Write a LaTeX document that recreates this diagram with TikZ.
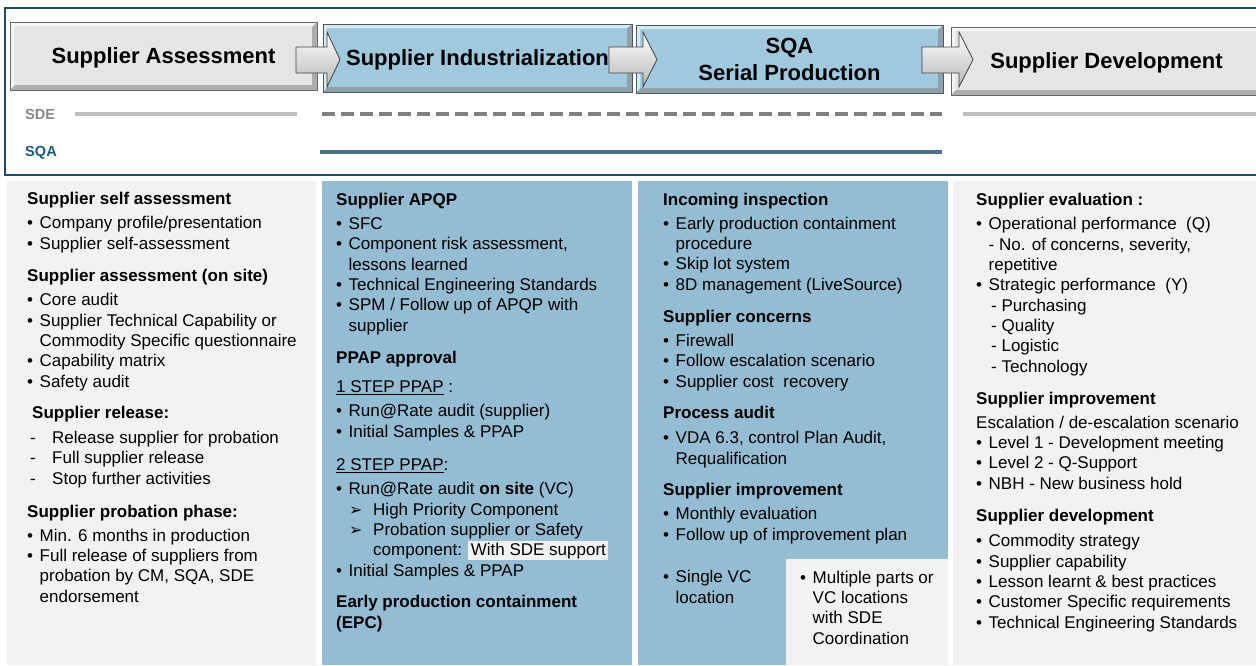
\documentclass[tikz,border=0pt]{standalone}
\usepackage{fontspec}
\setmainfont{Liberation Sans}
\newfontfamily\arrowfont{DejaVu Sans}
\usepackage{tikz}
\usetikzlibrary{calc}
\definecolor{framecol}{RGB}{30,75,105}
\definecolor{hdrgray}{RGB}{229,229,229}
\definecolor{hdrblue}{RGB}{160,201,222}
\definecolor{colgray}{RGB}{242,242,242}
\definecolor{colblue}{RGB}{148,188,210}
\definecolor{sdegray}{RGB}{135,135,135}
\definecolor{sqateal}{RGB}{28,90,122}
\definecolor{sqaline}{RGB}{78,112,136}
\def\blockarrow(#1:#2:#3)% Syntax: (body start x : head base x : tip x), pixel units
{ \shade[top color=white,bottom color=black!28,draw=black!75,line width=0.8pt] (#1,47) -- (#2,47) -- (#2,32) -- (#3,59.5) -- (#2,87) -- (#2,73) -- (#1,73) -- cycle; }
\newcommand{\bul}{\makebox[12.5pt][l]{\textbullet}}
\newcommand{\bcont}{\hspace*{12.5pt}}
\newcommand{\dsh}{\makebox[25pt][l]{\,-}}
\newcommand{\arritem}{\hspace*{13pt}\makebox[24pt][l]{{\arrowfont\fontsize{16}{16}\selectfont ➢}}}
\newcommand{\sdebox}[1]{{\setlength{\fboxsep}{2.5pt}\colorbox{colgray}{\raisebox{0pt}[12.5pt][1.5pt]{#1}}}}

\begin{document}
\begin{tikzpicture}[x=1pt,y=-1pt,
	bevel/.style={path picture={
		\coordinate (sw) at (path picture bounding box.south west);
		\coordinate (se) at (path picture bounding box.south east);
		\coordinate (nw) at (path picture bounding box.north west);
		\coordinate (ne) at (path picture bounding box.north east);
		\fill[#1!60!black!70] (sw) -- (se) -- (ne) -- ($(ne)+(-5,5)$) -- ($(se)+(-5,-5)$) -- ($(sw)+(5,-5)$) -- cycle;	%dark edge
		\fill[white!60!#1] (sw) -- (nw) -- (ne) -- ($(ne)+(-5,4)$) -- ($(nw)+(4,4)$) -- ($(sw)+(4,-5)$) -- cycle;	%light edge
	}},
	hdrbox/.style={fill=#1,draw=#1!45!black,line width=0.6pt,bevel=#1,minimum width=307pt,minimum height=68pt,
		inner sep=0pt,align=center,font=\bfseries\fontsize{22}{27}\selectfont},
	oneline/.style={text depth=0pt},
	txt/.style={anchor=base west,align=left,inner sep=0pt,font=\fontsize{17}{20.3}\selectfont},	%base = last line
	lbl/.style={anchor=west,inner sep=0pt,font=\bfseries\fontsize{14.6}{16}\selectfont},
	bar/.style={line width=4pt}]
	\useasboundingbox (0,0) rectangle (1256,665);
	
	%FRAME AND COLUMNS
	\draw[framecol,line width=2pt] (5,8) rectangle (1262,175);
	\fill[colgray] (7,181) rectangle (316,665);
	\fill[colblue] (322,181) rectangle (632,665);
	\fill[colblue] (638,181) rectangle (948,665);
	\fill[colgray] (786,559) rectangle (948,665);		%SDE coordination corner
	\fill[colgray] (953,181) rectangle (1262,665);
	
	%HEADER
	\node[hdrbox=hdrgray,oneline] (assess) at (163.5,56) {Supplier Assessment};
	\node[hdrbox=hdrblue,oneline,minimum width=309pt] (indus) at (477.5,58) {Supplier Industrialization};
	\node[hdrbox=hdrblue] (serial) at (789.5,59) {SQA\\Serial Production};
	\node[hdrbox=hdrgray,oneline,minimum width=311pt] (develop) at (1106.5,61) {Supplier Development};
	\blockarrow(296:327:340)
	\blockarrow(609:643:657)
	\blockarrow(922:959:973)
	
	%SDE / SQA BARS
	\node[lbl,text=sdegray] (sde) at (25,114) {SDE};
	\node[lbl,text=sqateal] (sqa) at (25,153) {SQA};
	\draw[bar,black!25] (75,114) -- (297,114);
	\draw[bar,black!50,dash pattern=on 13pt off 6pt] (322,114) -- (942,114);
	\draw[bar,black!25] (963,114) -- (1256,114);
	\draw[bar,sqaline] (320,152) -- (942,152);
	
	%COLUMN 1
	\node[txt] (selfassess) at (27,249) {\textbf{Supplier self assessment}\\[3.7pt]
		\bul Company profile/presentation\\\bul Supplier self-assessment};
	\node[txt] (onsite) at (27,387) {\textbf{Supplier assessment (on site)}\\[3.7pt]
		\bul Core audit\\\bul Supplier Technical Capability or\\\bcont Commodity Specific questionnaire\\
		\bul Capability matrix\\\bul Safety audit};
	\node[txt] (release) at (27,484) {\hspace*{5pt}\textbf{Supplier release:}\\[4.7pt]
		\dsh Release supplier for probation\\\dsh Full supplier release\\\dsh Stop further activities};
	\node[txt] (probation) at (27,602) {\textbf{Supplier probation phase:}\\[3.7pt]
		\bul Min. 6 months in production\\\bul Full release of suppliers from\\
		\bcont probation by CM, SQA, SDE\\\bcont endorsement};
	
	%COLUMN 2
	\node[txt] (apqp) at (336,331) {\textbf{Supplier APQP}\\[3.7pt]
		\bul SFC\\\bul Component risk assessment,\\\bcont lessons learned\\
		\bul Technical Engineering Standards\\\bul SPM / Follow up of APQP with\\\bcont supplier};
	\node[txt] (ppap) at (336,363) {\textbf{PPAP approval}};
	\node[txt] (onestep) at (336,437) {\underline{1 STEP PPAP} :\\[3.7pt]
		\bul Run@Rate audit (supplier)\\\bul Initial Samples \& PPAP};
	\node[txt] (twostep) at (336,576) {\underline{2 STEP PPAP}:\\[3.7pt]
		\bul Run@Rate audit \textbf{on site} (VC)\\\arritem High Priority Component\\
		\arritem Probation supplier or Safety\\\hspace*{37pt}component: \sdebox{With SDE support}\\
		\bul Initial Samples \& PPAP};
	\node[txt] (epc) at (336,628) {\textbf{Early production containment}\\\textbf{(EPC)}};
	
	%COLUMN 3
	\node[txt] (incoming) at (663,290) {\textbf{Incoming inspection}\\[3.7pt]
		\bul Early production containment\\\bcont procedure\\\bul Skip lot system\\
		\bul 8D management (LiveSource)};
	\node[txt] (concerns) at (663,387) {\textbf{Supplier concerns}\\[3.7pt]
		\bul Firewall\\\bul Follow escalation scenario\\\bul Supplier cost\ \ recovery};
	\node[txt] (procaudit) at (663,464) {\textbf{Process audit}\\[4.7pt]
		\bul VDA 6.3, control Plan Audit,\\\bcont Requalification};
	\node[txt] (improve) at (663,540) {\textbf{Supplier improvement}\\[3.7pt]
		\bul Monthly evaluation\\\bul Follow up of improvement plan};
	\node[txt] (singlevc) at (663,603) {\bul Single VC\\\bcont location};
	\node[txt] (multivc) at (800,644) {\bul Multiple parts or\\\bcont VC locations\\\bcont with SDE\\\bcont Coordination};
	
	%COLUMN 4
	\node[txt] (evaluation) at (976,372) {\textbf{Supplier evaluation :}\\[3.7pt]
		\bul Operational performance\ \ (Q)\\\bcont - No. of concerns, severity,\\\bcont repetitive\\
		\bul Strategic performance\ \ (Y)\\\hspace*{15pt}- Purchasing\\\hspace*{15pt}- Quality\\
		\hspace*{15pt}- Logistic\\\hspace*{15pt}- Technology};
	\node[txt] (improvement) at (976,489) {\textbf{Supplier improvement}\\[3.7pt]
		Escalation / de-escalation scenario\\\bul Level 1 - Development meeting\\
		\bul Level 2 - Q-Support\\\bul NBH - New business hold};
	\node[txt] (development) at (976,628) {\textbf{Supplier development}\\[4.7pt]
		\bul Commodity strategy\\\bul Supplier capability\\\bul Lesson learnt \& best practices\\
		\bul Customer Specific requirements\\\bul Technical Engineering Standards};
\end{tikzpicture}
\end{document}
